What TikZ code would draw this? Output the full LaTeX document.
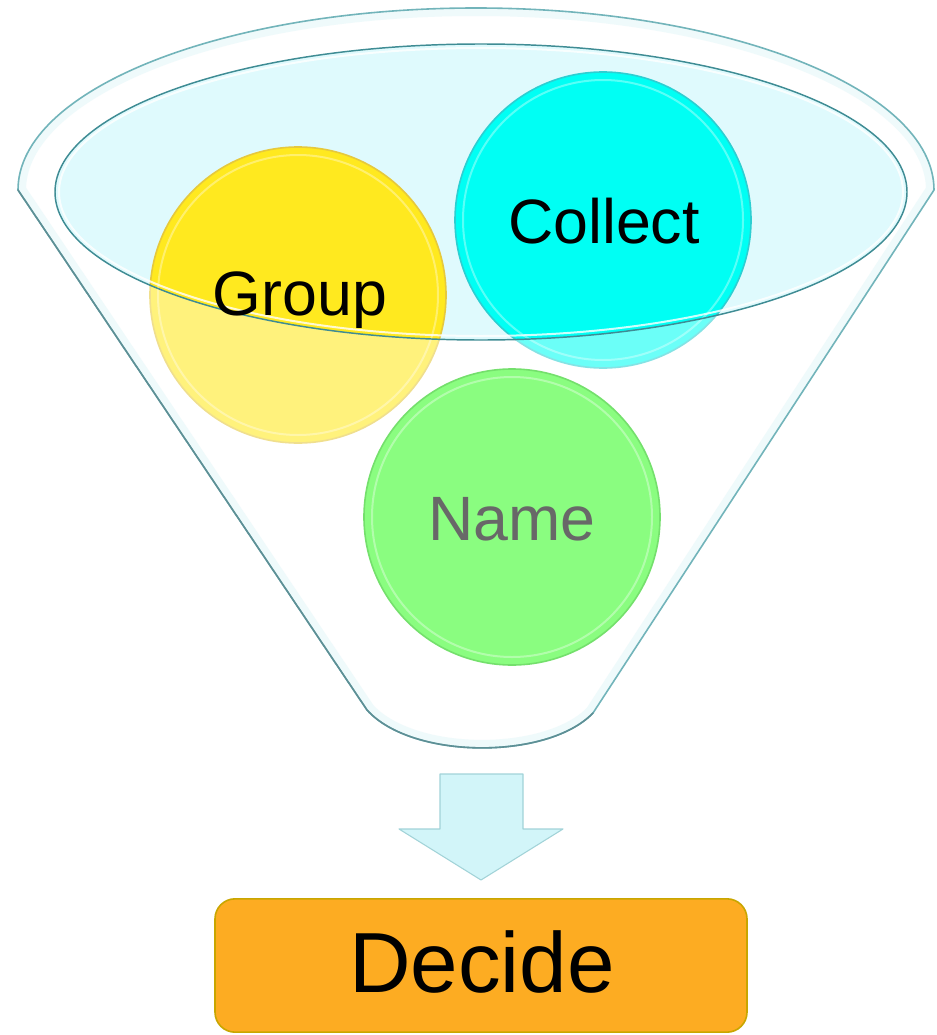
\documentclass[tikz,border=0pt]{standalone}
\usepackage{fontspec}
\setmainfont{Liberation Sans}
\begin{document}
\begin{tikzpicture}[x=0.75pt,y=-0.75pt]
\definecolor{funnelline}{HTML}{72B4BA}
\definecolor{funnelshade}{HTML}{5E8F95}
\definecolor{funnelglow}{HTML}{E4F7F9}
\definecolor{mouthfill}{HTML}{DFFAFD}
\definecolor{mouthline}{HTML}{3F8C94}
\definecolor{groupfill}{HTML}{FFE91F}
\definecolor{groupline}{HTML}{E6C93C}
\definecolor{collectfill}{HTML}{00FFF4}
\definecolor{collectline}{HTML}{2CCFD2}
\definecolor{namefill}{HTML}{8AFD80}
\definecolor{nameline}{HTML}{74E06C}
\definecolor{nametext}{HTML}{686868}
\definecolor{arrowfill}{HTML}{D2F5F9}
\definecolor{arrowline}{HTML}{A2D3D8}
\definecolor{decidefill}{HTML}{FDAC22}
\definecolor{decideline}{HTML}{C9A600}
\tikzset{
  ball/.style={circle, minimum size=222pt, inner sep=0pt, line width=1.2pt},
  balltext/.style={anchor=base, font=\fontsize{47}{50}\selectfont},
  ring/.style={white, opacity=0.35, line width=1.5pt},
}
\useasboundingbox (0,0) rectangle (936,1035);
\def\funnelpath{(18,190) arc[start angle=180,end angle=360,x radius=458,y radius=182] -- (593,713) .. controls (548,760) and (412,760) .. (367,710) -- cycle}
% funnel body
\fill[white] \funnelpath;
\begin{scope}
  \clip \funnelpath;
  \draw[funnelglow, line width=12pt] \funnelpath;
\end{scope}
% mouth
\fill[mouthfill] (481,192) ellipse[x radius=426, y radius=148];
% balls behind the front wall
\node[ball, fill=groupfill, draw=groupline] (group) at (298,295) {};
\draw[ring] (group.center) circle[radius=140];
\node[ball, fill=collectfill, draw=collectline] (collect) at (603,220) {};
\draw[ring] (collect.center) circle[radius=140];
% translucent front wall
\fill[white, fill opacity=0.42, even odd rule] \funnelpath (481,192) ellipse[x radius=426, y radius=148];
% ball in the funnel body
\node[ball, fill=namefill, draw=nameline] (name) at (512,517) {};
\draw[ring] (name.center) circle[radius=140];
% outlines
\draw[white, line width=1.5pt, opacity=0.8] (481,192) ellipse[x radius=422, y radius=144];
\draw[mouthline, line width=1.1pt] (481,192) ellipse[x radius=426, y radius=148];
\draw[funnelline, line width=1.2pt] \funnelpath;
\draw[funnelshade, line width=1.2pt, line cap=round] (18,190) -- (367,710) .. controls (412,760) and (548,760) .. (593,713);
% texts
\node[balltext] (grouptxt) at (300,315) {Group};
\node[balltext] (collecttxt) at (604,243) {Collect};
\node[balltext, text=nametext] (nametxt) at (512,540) {Name};
% arrow
\coordinate (arrtop) at (481,774);
\filldraw[fill=arrowfill, draw=arrowline, line width=0.8pt, line join=round]
  (arrtop) ++(-41,0) -- ++(83,0) -- ++(0,55) -- ++(40,0) -- ++(-82,51) -- ++(-82,-51) -- ++(41,0) -- cycle;
% decide box
\node[draw=decideline, fill=decidefill, line width=1.2pt, rounded corners=15pt,
      minimum width=399pt, minimum height=100pt, inner sep=0pt] (decide) at (481,965.5) {};
\node[anchor=base, font=\fontsize{64}{66}\selectfont] (decidetxt) at (482,992) {Decide};
\end{tikzpicture}
\end{document}
